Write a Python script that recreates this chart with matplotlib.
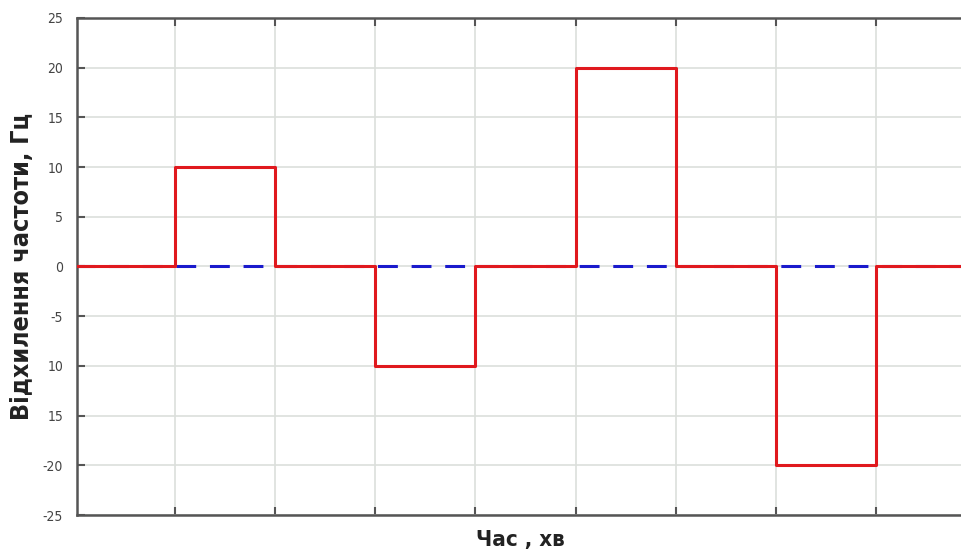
import matplotlib
matplotlib.use("Agg")
import matplotlib.pyplot as plt
import numpy as np

# Data
step_edges = [0, 1, 2, 3, 4, 5, 6, 7, 8, 8.9]
deviation = [0, 10, 0, -10, 0, 20, 0, -20, 0]
nominal = [0, 0]
y_ticks = [25, 20, 15, 10, 5, 0, -5, -10, -15, -20, -25]
y_tick_labels = ['25', '20', '15', '10', '5', '0', '-5', '10', '15', '-20', '-25']
x_grid = [1, 2, 3, 4, 5, 6, 7, 8]

fig = plt.figure(figsize=(9.62, 5.53), dpi=100)
ax = fig.add_axes([0.080, 0.0687, 0.921, 0.8988])

xs = np.repeat(step_edges, 2)[1:-1]
ys = np.repeat(deviation, 2)
ax.plot([step_edges[0], step_edges[-1]], nominal, color='#1a1acc', lw=2.2,
        dashes=(6.5, 4.5), zorder=2)
ax.plot(xs, ys, color='#e0191e', lw=2.2, zorder=3)

ax.set_xlim(0.02, 8.87)
ax.set_ylim(-25, 25)
ax.set_yticks(y_ticks)
ax.set_yticklabels(y_tick_labels)
ax.set_xticks(x_grid)
ax.set_xticklabels([])
ax.grid(True, color='#dcdfdc', lw=1.2, zorder=0)
ax.tick_params(axis='both', direction='in', length=6, width=1.5, color='#555555',
               labelsize=10, labelcolor='#444444', pad=10)
ax.tick_params(axis='x', top=True)
for s in ['left', 'bottom', 'top']:
    ax.spines[s].set_color('#555555')
    ax.spines[s].set_linewidth(1.8)
ax.spines['right'].set_visible(False)
for lbl in ax.get_yticklabels():
    lbl.set_fontfamily(['DejaVu Sans'])
    lbl.set_fontstretch('condensed')

ax.set_ylabel('Відхилення частоти, Гц', fontsize=18, fontweight='bold',
              family=['DejaVu Sans'], fontstretch='condensed', color='#222222', labelpad=6)
ax.set_xlabel('Час , хв', fontsize=16, fontweight='bold',
              family=['DejaVu Sans'], fontstretch='condensed', color='#222222', labelpad=1)

fig.savefig('out.png', dpi=100)
